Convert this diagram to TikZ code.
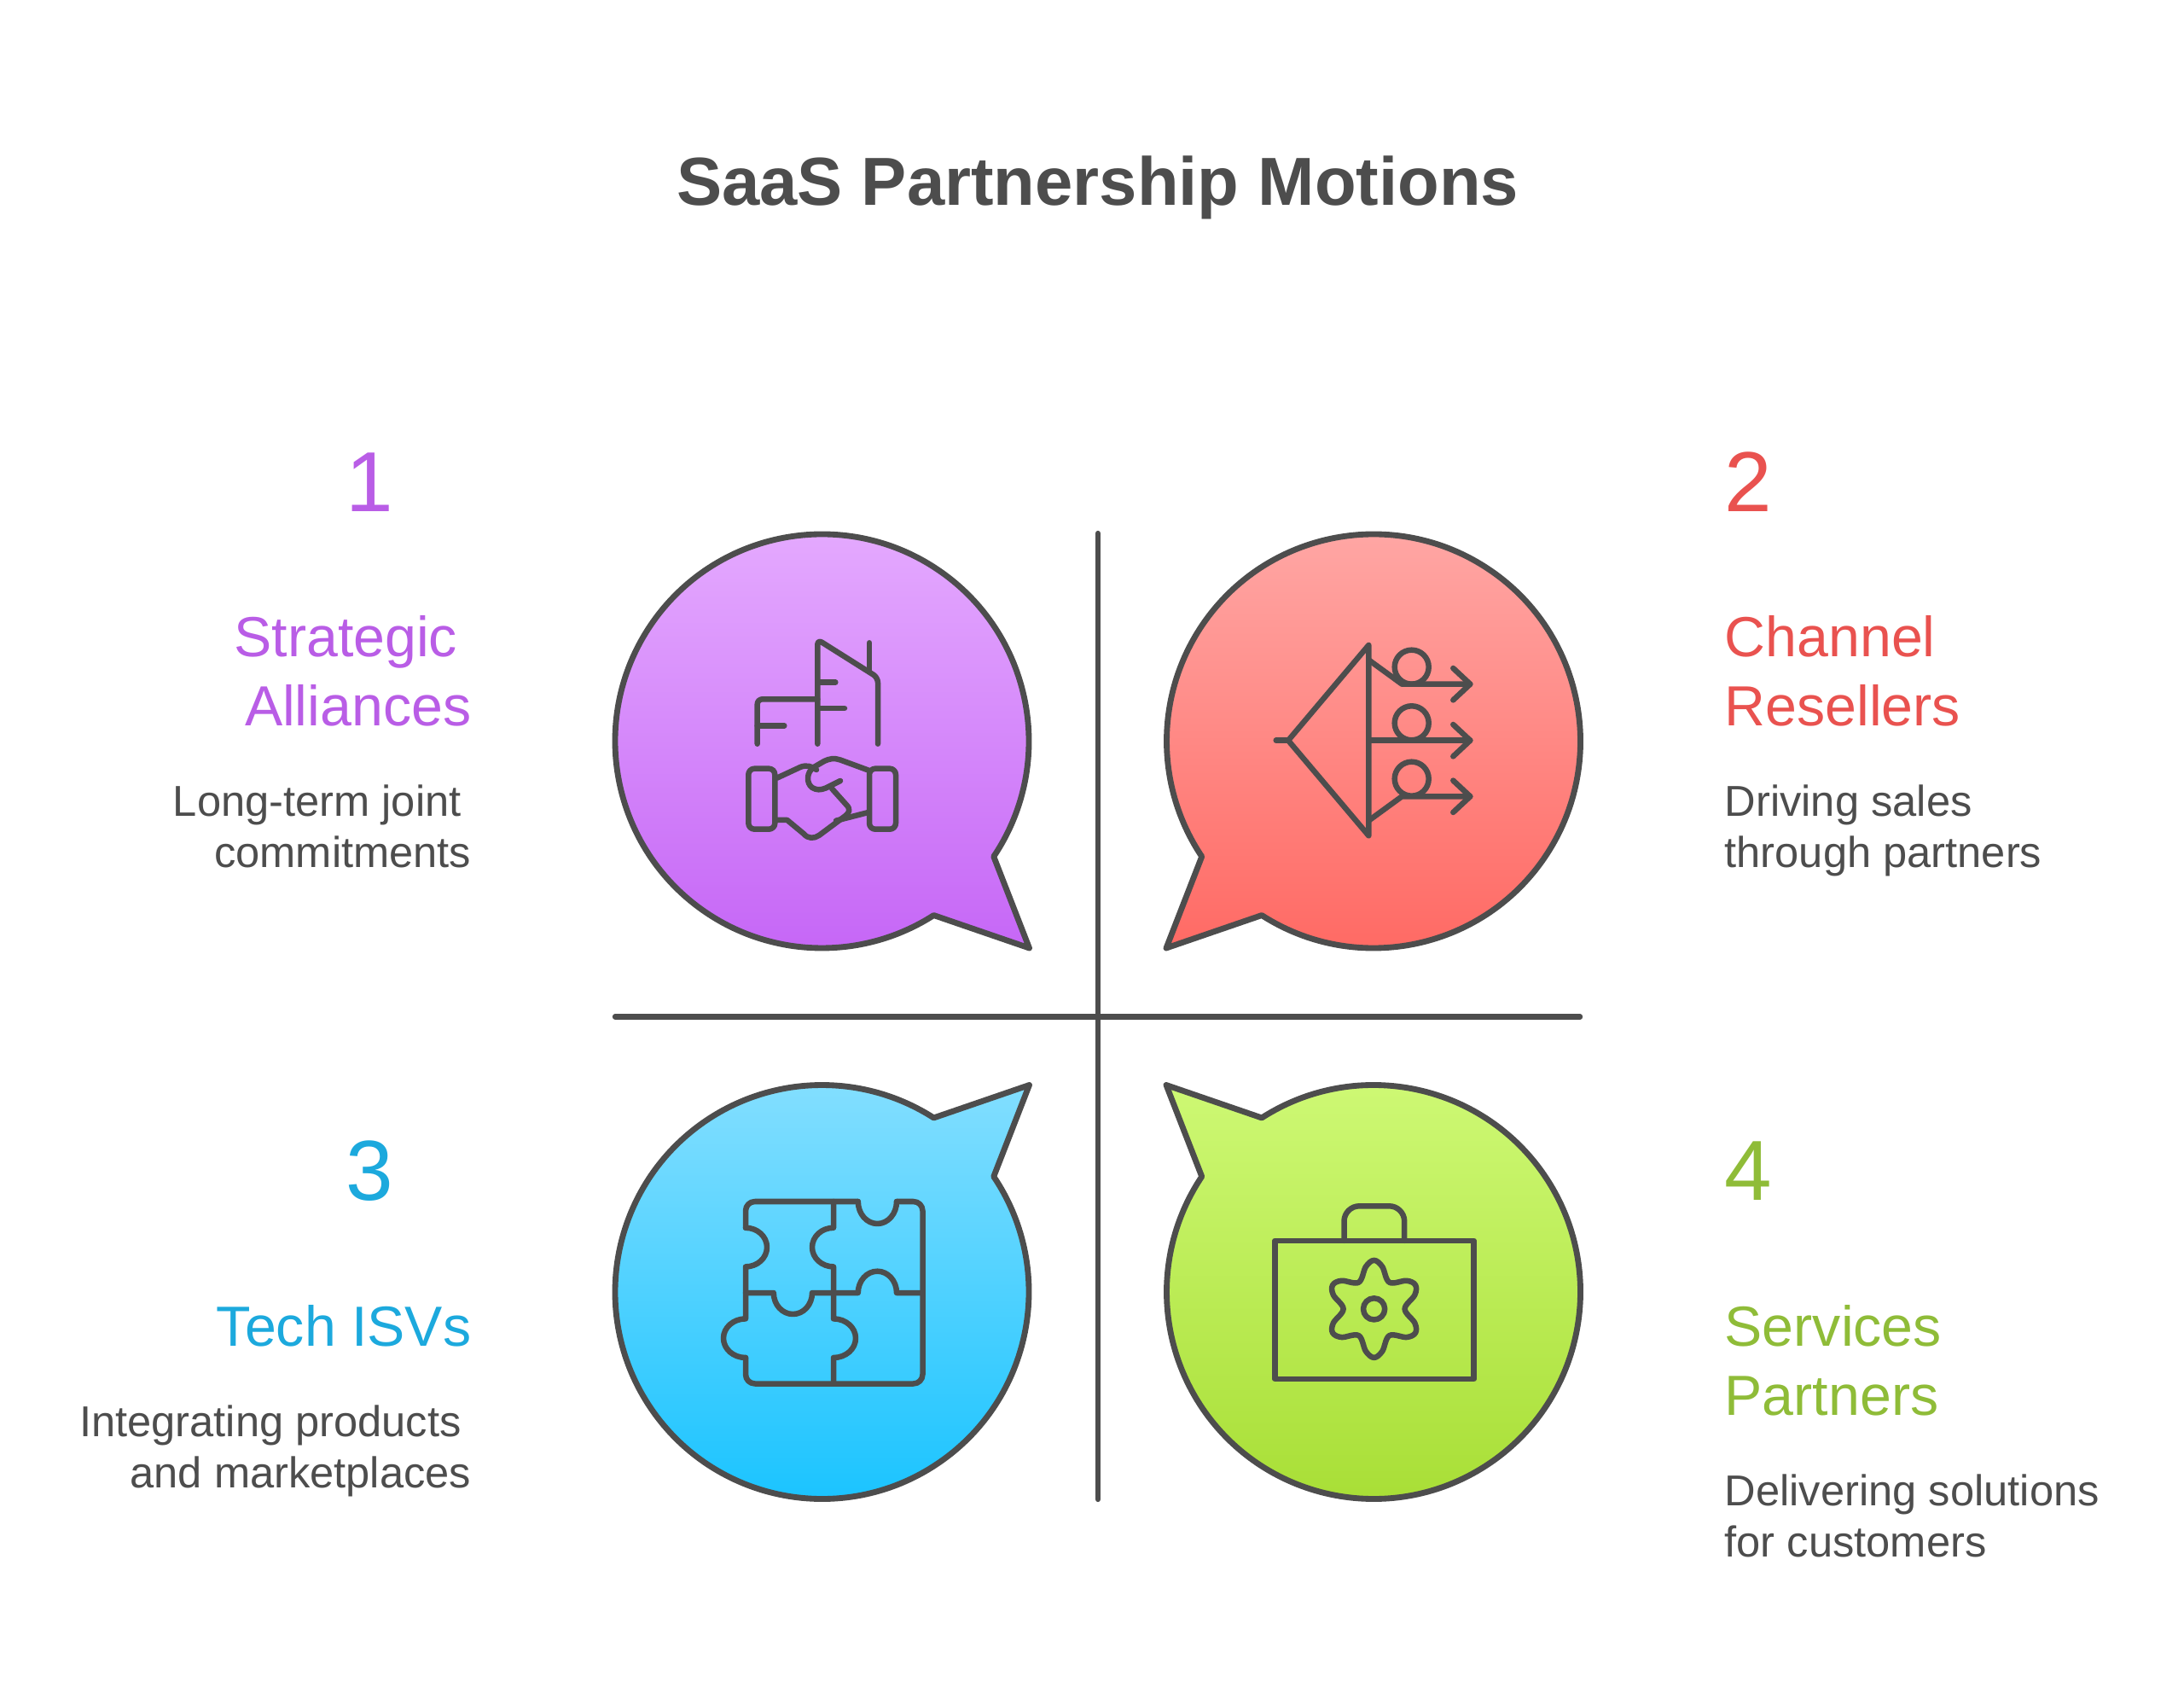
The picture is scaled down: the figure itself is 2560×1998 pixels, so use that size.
\documentclass[tikz,border=0pt]{standalone}
\usepackage{fontspec}
\setmainfont{Liberation Sans}
\usetikzlibrary{positioning,calc}
\definecolor{inkgray}{HTML}{4D4D4D}
\definecolor{purpletext}{HTML}{B95DE6}
\definecolor{redtext}{HTML}{E9524F}
\definecolor{bluetext}{HTML}{1CA9DD}
\definecolor{greentext}{HTML}{8FBC38}
\begin{document}
\begin{tikzpicture}[x=0.01cm, y=-0.01cm, every node/.style={inner sep=0pt}]
    \tikzstyle{bubble}=[draw=inkgray, line width=1.95pt, line join=round];
    \tikzstyle{icon}=[draw=inkgray, line width=1.85pt, line join=round, line cap=round];
    \tikzstyle{axisline}=[draw=inkgray, line width=1.8pt, line cap=round];
    \tikzstyle{numtext}=[anchor=base west, font=\fontsize{28.4}{34}\selectfont];
    \tikzstyle{headtext}=[font=\fontsize{18.85}{22.9}\selectfont];
    \tikzstyle{bodytext}=[text=inkgray, font=\fontsize{14.4}{17.07}\selectfont];
    \useasboundingbox (0,0) rectangle (2560,1998);
    \node[anchor=base, text=inkgray, font=\fontsize{22.65}{27}\bfseries] (title) at (1286.5,241) {SaaS Partnership Motions};

    % speech bubbles
    \draw[bubble, top color={rgb,255:red,230;green,173;blue,255}, bottom color={rgb,255:red,197;green,101;blue,246}]
        ($(963.5,868.5)+(33.9:242.5)$) arc[start angle=33.9, end angle=-302.7, radius=242.5] -- (1206.5,1111) -- cycle;
    \draw[bubble, top color={rgb,255:red,255;green,170;blue,168}, bottom color={rgb,255:red,255;green,102;blue,96}]
        ($(1610,868.5)+(122.7:242.5)$) arc[start angle=122.7, end angle=-213.9, radius=242.5] -- (1367,1111) -- cycle;
    \draw[bubble, top color={rgb,255:red,133;green,223;blue,255}, bottom color={rgb,255:red,20;green,194;blue,255}]
        ($(963.5,1514)+(-33.9:242.5)$) arc[start angle=-33.9, end angle=302.7, radius=242.5] -- (1206.5,1271.5) -- cycle;
    \draw[bubble, top color={rgb,255:red,208;green,250;blue,120}, bottom color={rgb,255:red,166;green,221;blue,50}]
        ($(1610,1514)+(-122.7:242.5)$) arc[start angle=-122.7, end angle=213.9, radius=242.5] -- (1367,1271.5) -- cycle;
    \draw[axisline] (1287,625) -- (1287,1757);
    \draw[axisline] (721,1191.5) -- (1852,1191.5);

    % building and handshake
    \draw[icon, rounded corners=1.7pt] (958.3,871.7) -- (958.3,749.5) -- (1029,794) -- (1029,871.7);
    \draw[icon] (1019,753.3) -- (1019,786.7);
    \draw[icon] (958.3,799.7) -- (979.3,799.7);
    \draw[icon] (958.3,830) -- (990,830);
    \draw[icon, rounded corners=1.7pt] (887.7,871.7) -- (887.7,819.3) -- (958.3,819.3);
    \draw[icon] (887.7,850.3) -- (919.3,850.3);
    \draw[icon, rounded corners=2pt] (877.3,900.7) rectangle (908.3,971.7);
    \draw[icon, rounded corners=2pt] (1019,900.7) rectangle (1050,971.7);
    \draw[icon] (910.7,911.7) -- (938,899) .. controls (945,896) and (952,898) .. (957,902);
    \draw[icon] (1019,903) -- (985,890.5) .. controls (978,888) and (972,889) .. (966,892) -- (954,899)
        .. controls (945,905) and (945,918) .. (952,923) .. controls (957,926) and (962,926) .. (968,923.5) -- (985,915);
    \draw[icon] (975,924) -- (992,943) .. controls (997,948) and (996,952) .. (991,956) -- (960,979)
        .. controls (954,983) and (947,983) .. (942,977) -- (922.7,961) -- (910.7,961);
    \draw[icon] (980,961.7) -- (1016.7,952.3);

    % branching arrows
    \draw[icon] (1495.7,867.7) -- (1510,867.7);
    \draw[icon] (1604.3,756) -- (1510,867.7) -- (1604.3,979.3) -- cycle;
    \foreach \ry/\cy in {801.7/781.7, 867.7/847.3, 933.3/912.7} {
        \draw[icon] (1654.7,\cy) circle[radius=20];
        \draw[icon] (1703.3,\ry-18.7) -- (1723.3,\ry) -- (1703.3,\ry+18.7);
    }
    \draw[icon] (1604.3,773.3) -- (1643.3,801.7) -- (1723.3,801.7);
    \draw[icon] (1604.3,867.7) -- (1723.3,867.7);
    \draw[icon] (1604.3,961.7) -- (1643.3,933.3) -- (1723.3,933.3);

    % puzzle pieces
    \draw[icon, rounded corners=3.1pt] (874,1438.8) -- (874,1408) -- (1005.8,1408);
    \draw[icon, rounded corners=3.1pt] (1051,1408) -- (1081.5,1408) -- (1081.5,1621.5) -- (874,1621.5) -- (874,1591);
    \draw[icon] (874,1438.8) arc[start angle=-90, end angle=90, x radius=25, y radius=22.8] -- (874,1545.4)
        arc[start angle=-90, end angle=-270, x radius=26, y radius=22.8] -- (874,1591);
    \draw[icon] (977,1408) -- (977,1438.8) arc[start angle=-90, end angle=-270, x radius=25, y radius=22.8] -- (977,1545.4)
        arc[start angle=-90, end angle=90, x radius=26, y radius=22.8] -- (977,1621.5);
    \draw[icon] (1005.8,1408) arc[start angle=180, end angle=0, x radius=22.6, y radius=26];
    \draw[icon] (874,1515) -- (906.8,1515) arc[start angle=180, end angle=0, x radius=22.6, y radius=25] -- (1005.8,1515)
        arc[start angle=180, end angle=360, x radius=22.6, y radius=25.3] -- (1081.5,1515);

    % briefcase and gear
    \draw[icon] (1494.3,1453.8) rectangle (1727.7,1616);
    \draw[icon, rounded corners=5.1pt] (1575.5,1453.8) -- (1575.5,1413.3) -- (1646.2,1413.3) -- (1646.2,1453.8);
    \draw[icon] (1610.6,1533.9) circle[radius=12.6];
    \draw[icon, shift={(1610.6,1533.9)}] plot[smooth cycle, tension=0.6] coordinates {
        (90:57) (101:50.5) (120:36) (139:50.5) (150:56) (161:50.5)
        (180:36) (199:50.5) (210:56) (221:50.5) (240:36) (259:50.5)
        (270:57) (281:50.5) (300:36) (319:50.5) (330:56) (341:50.5)
        (0:36) (19:50.5) (30:56) (41:50.5) (60:36) (79:50.5)};

    % labels on the left
    \node[numtext, text=purpletext] (numa) at (405,599.5) {1};
    \node[headtext, text=purpletext, align=right, anchor=base east] (heada) at (553,850.5) {Strategic\kern4.6pt\\Alliances};
    \node[bodytext, align=right, anchor=base east] (bodya) at (553,1016.5) {Long-term joint\kern3.3pt\\commitments};
    \node[numtext, text=bluetext] (numc) at (405,1406.5) {3};
    \node[headtext, text=bluetext, align=right, anchor=base east] (headc) at (553,1577.5) {Tech ISVs};
    \node[bodytext, align=right, anchor=base east] (bodyc) at (553,1743.5) {Integrating products\kern3.3pt\\and marketplaces};

    % labels on the right
    \node[numtext, text=redtext] (numb) at (2021,599.5) {2};
    \node[headtext, text=redtext, align=left, anchor=base west] (headb) at (2021,850.5) {Channel\\Resellers};
    \node[bodytext, align=left, anchor=base west] (bodyb) at (2021,1016.5) {Driving sales\\through partners};
    \node[numtext, text=greentext] (numd) at (2021,1406.5) {4};
    \node[headtext, text=greentext, align=left, anchor=base west] (headd) at (2021,1658) {Services\\Partners};
    \node[bodytext, align=left, anchor=base west] (bodyd) at (2021,1824.5) {Delivering solutions\\for customers};
\end{tikzpicture}
\end{document}
